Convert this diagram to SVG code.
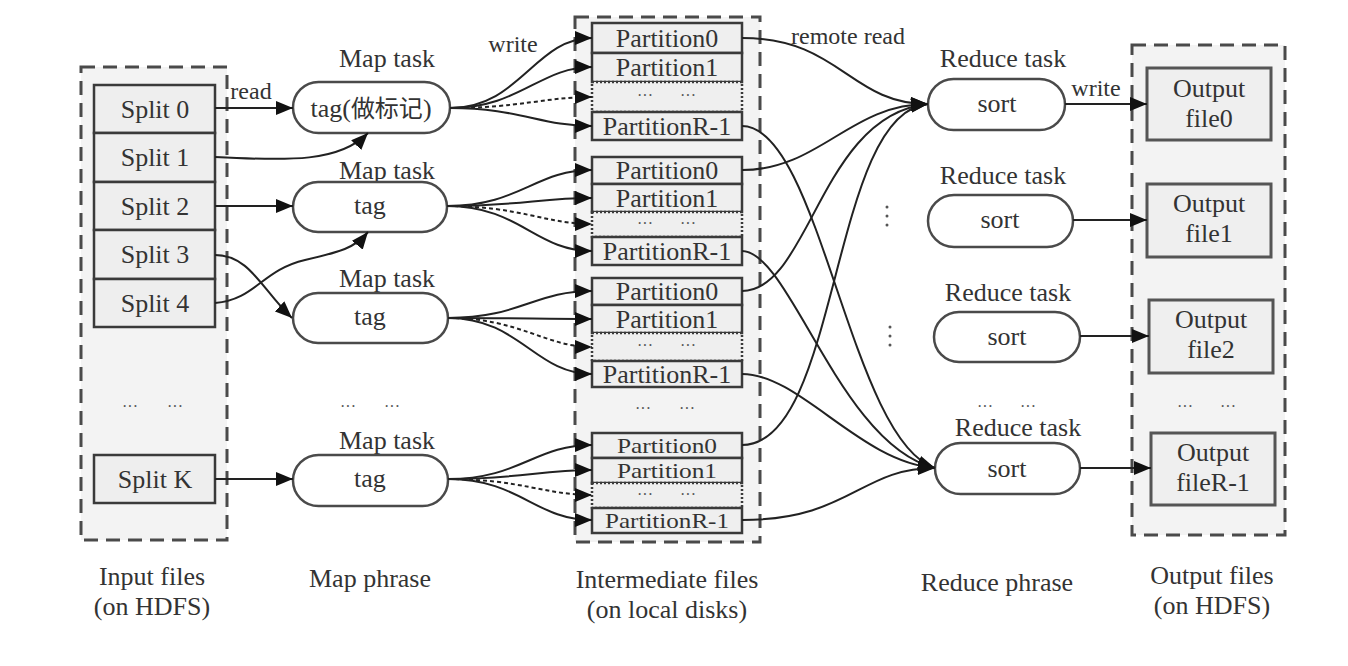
<svg xmlns="http://www.w3.org/2000/svg" width="1348" height="666" viewBox="0 0 1348 666">
<style>
text{font-family:"Liberation Serif","Times New Roman",serif;font-size:26px;fill:#333;text-anchor:middle}
.cont{fill:#f3f3f3;stroke:#4a4a4a;stroke-width:3;stroke-dasharray:14 8}
.box{fill:#eeeeee;stroke:#3a3a3a;stroke-width:2.5}
.pbox{fill:#efefef;stroke:#3a3a3a;stroke-width:2.5}
.dbox{fill:#efefef;stroke:#3a3a3a;stroke-width:2.5;stroke-dasharray:2 2}
.task{fill:#fff;stroke:#4a4a4a;stroke-width:2.5}
.obox{fill:#efefef;stroke:#555;stroke-width:3}
.c{fill:none;stroke:#222;stroke-width:2;marker-end:url(#arr)}
.cd{fill:none;stroke:#222;stroke-width:2;stroke-dasharray:4 3;marker-end:url(#arr)}
.dots{font-size:16px;fill:#555}
.lbl{font-size:24px}
.sm{font-size:22px}
</style>
<defs>
<marker id="arr" markerWidth="17" markerHeight="14" refX="17" refY="7" orient="auto" markerUnits="userSpaceOnUse">
<path d="M0,0 L17,7 L0,14 z" fill="#111"/>
</marker>
</defs>

<!-- containers -->
<g id="input-files">
<rect class="cont" x="81" y="67" width="146" height="473"/>
</g>
<g id="intermediate-files">
<rect class="cont" x="575" y="17" width="185" height="525"/>
</g>
<g id="output-files">
<rect class="cont" x="1132" y="45" width="153" height="490"/>
</g>

<!-- splits -->
<g id="split0"><rect class="box" x="94" y="85" width="121" height="48"/><text x="155" y="118">Split 0</text></g>
<g id="split1"><rect class="box" x="94" y="133" width="121" height="49"/><text x="155" y="166">Split 1</text></g>
<g id="split2"><rect class="box" x="94" y="182" width="121" height="48"/><text x="155" y="215">Split 2</text></g>
<g id="split3"><rect class="box" x="94" y="230" width="121" height="49"/><text x="155" y="263">Split 3</text></g>
<g id="split4"><rect class="box" x="94" y="279" width="121" height="48"/><text x="155" y="312">Split 4</text></g>
<g id="input-dots"><text class="dots" x="130" y="412">···</text><text class="dots" x="175" y="412">···</text></g>
<g id="splitK"><rect class="box" x="94" y="455" width="121" height="48"/><text x="155" y="488">Split K</text></g>

<!-- map tasks -->
<g id="map1"><text x="387" y="67">Map task</text><rect class="task" x="293" y="82" width="157" height="51" rx="25.5"/><text x="371" y="117">tag(<tspan font-family="'Noto Sans CJK SC',sans-serif" font-size="24">做标记</tspan>)</text></g>
<g id="map2"><text x="387" y="179">Map task</text><rect class="task" x="293" y="182" width="154" height="50" rx="25"/><text x="370" y="214">tag</text></g>
<g id="map3"><text x="387" y="287">Map task</text><rect class="task" x="293" y="293" width="155" height="50" rx="25"/><text x="370" y="325">tag</text></g>
<g id="map-dots"><text class="dots" x="348" y="412">···</text><text class="dots" x="392" y="412">···</text></g>
<g id="map4"><text x="387" y="449">Map task</text><rect class="task" x="293" y="455" width="155" height="51" rx="25.5"/><text x="370" y="487">tag</text></g>

<!-- partitions -->
<g id="part-g1">
<rect class="pbox" x="592" y="23" width="150" height="30"/><text x="667" y="47">Partition0</text>
<rect class="pbox" x="592" y="53" width="150" height="29"/><text x="667" y="76">Partition1</text>
<rect class="dbox" x="592" y="82" width="150" height="30"/><text class="dots" x="645" y="101">···</text><text class="dots" x="688" y="101">···</text>
<rect class="pbox" x="592" y="112" width="150" height="28"/><text x="667" y="135">PartitionR-1</text>
</g>
<g id="part-g2">
<rect class="pbox" x="592" y="157" width="150" height="27"/><text x="667" y="179">Partition0</text>
<rect class="pbox" x="592" y="184" width="150" height="28"/><text x="667" y="207">Partition1</text>
<rect class="dbox" x="592" y="212" width="150" height="25"/><text class="dots" x="645" y="229">···</text><text class="dots" x="688" y="229">···</text>
<rect class="pbox" x="592" y="237" width="150" height="28"/><text x="667" y="260">PartitionR-1</text>
</g>
<g id="part-g3">
<rect class="pbox" x="592" y="278" width="150" height="27"/><text x="667" y="300">Partition0</text>
<rect class="pbox" x="592" y="305" width="150" height="28"/><text x="667" y="328">Partition1</text>
<rect class="dbox" x="592" y="333" width="150" height="28"/><text class="dots" x="645" y="351">···</text><text class="dots" x="688" y="351">···</text>
<rect class="pbox" x="592" y="361" width="150" height="26"/><text x="667" y="383">PartitionR-1</text>
</g>
<g id="part-dots"><text class="dots" x="643" y="414">···</text><text class="dots" x="687" y="414">···</text></g>
<g id="part-g4">
<rect class="pbox" x="592" y="433" width="150" height="25"/><text class="sm" x="667" y="453" textLength="100" lengthAdjust="spacingAndGlyphs">Partition0</text>
<rect class="pbox" x="592" y="458" width="150" height="25"/><text class="sm" x="667" y="478" textLength="100" lengthAdjust="spacingAndGlyphs">Partition1</text>
<rect class="dbox" x="592" y="483" width="150" height="25"/><text class="dots" x="645" y="500">···</text><text class="dots" x="688" y="500">···</text>
<rect class="pbox" x="592" y="508" width="150" height="25"/><text class="sm" x="667" y="528" textLength="124" lengthAdjust="spacingAndGlyphs">PartitionR-1</text>
</g>

<!-- reduce tasks -->
<g id="reduce1"><text x="1003" y="67">Reduce task</text><rect class="task" x="928" y="79" width="137" height="51" rx="25.5"/><text x="997" y="112">sort</text></g>
<g id="reduce2"><text x="1003" y="184">Reduce task</text><rect class="task" x="928" y="195" width="145" height="52" rx="26"/><text x="1000" y="228">sort</text></g>
<g id="reduce3"><text x="1008" y="301">Reduce task</text><rect class="task" x="934" y="312" width="146" height="50" rx="25"/><text x="1007" y="345">sort</text></g>
<g id="reduce-dots"><text class="dots" x="985" y="412">···</text><text class="dots" x="1028" y="412">···</text></g>
<g id="reduce4"><text x="1018" y="436">Reduce task</text><rect class="task" x="935" y="443" width="145" height="51" rx="25.5"/><text x="1007" y="477">sort</text></g>
<g id="vdots" fill="#555">
<circle cx="887" cy="207" r="1.5"/><circle cx="887" cy="216" r="1.5"/><circle cx="887" cy="225" r="1.5"/>
<circle cx="890" cy="327" r="1.5"/><circle cx="890" cy="336" r="1.5"/><circle cx="890" cy="345" r="1.5"/>
</g>

<!-- output files -->
<g id="out0"><rect class="obox" x="1147" y="68" width="124" height="72"/><text x="1209" y="97">Output</text><text x="1209" y="127">file0</text></g>
<g id="out1"><rect class="obox" x="1147" y="184" width="124" height="73"/><text x="1209" y="212">Output</text><text x="1209" y="242">file1</text></g>
<g id="out2"><rect class="obox" x="1149" y="300" width="124" height="73"/><text x="1211" y="328">Output</text><text x="1211" y="358">file2</text></g>
<g id="out-dots"><text class="dots" x="1185" y="412">···</text><text class="dots" x="1228" y="412">···</text></g>
<g id="outR"><rect class="obox" x="1151" y="433" width="124" height="72"/><text x="1213" y="461">Output</text><text x="1213" y="491">fileR-1</text></g>

<!-- connectors -->
<g id="connectors">
<path class="c" d="M215,108 L293,108"/>
<path class="c" d="M215,157 C290,161 340,162 368,133"/>
<path class="c" d="M215,206 L293,206"/>
<path class="c" d="M215,255 C250,255 262,290 292,318"/>
<path class="c" d="M215,303 C255,300 262,270 305,260 C340,252 355,248 368,232"/>
<path class="c" d="M215,479 L293,479"/>

<path class="c" d="M450,108 C520,108 535,38 592,38"/>
<path class="c" d="M450,108 C520,108 540,67 592,67"/>
<path class="cd" d="M450,108 C520,108 545,97 592,97"/>
<path class="c" d="M450,108 C520,108 540,126 592,126"/>

<path class="c" d="M447,206 C520,206 535,170 592,170"/>
<path class="c" d="M447,206 C520,206 540,198 592,198"/>
<path class="cd" d="M447,206 C520,206 545,224 592,224"/>
<path class="c" d="M447,206 C520,206 535,251 592,251"/>

<path class="c" d="M448,318 C520,318 535,291 592,291"/>
<path class="c" d="M448,318 C520,318 540,319 592,319"/>
<path class="cd" d="M448,318 C520,318 545,347 592,347"/>
<path class="c" d="M448,318 C520,318 535,374 592,374"/>

<path class="c" d="M448,479 C520,479 535,445 592,445"/>
<path class="c" d="M448,479 C520,479 540,470 592,470"/>
<path class="cd" d="M448,479 C520,479 545,495 592,495"/>
<path class="c" d="M448,479 C520,479 535,520 592,520"/>

<path class="c" d="M742,38 C840,38 850,104 928,104"/>
<path class="c" d="M742,170 C820,170 850,104 928,104"/>
<path class="c" d="M742,291 C810,291 820,115 928,104"/>
<path class="c" d="M742,445 C840,445 830,112 928,104"/>

<path class="c" d="M742,126 C820,126 850,440 935,468"/>
<path class="c" d="M742,251 C790,251 840,445 935,468"/>
<path class="c" d="M742,374 C800,374 860,462 935,468"/>
<path class="c" d="M742,520 C850,520 860,468 935,468"/>

<path class="c" d="M1065,104 L1147,104"/>
<path class="c" d="M1073,220 L1147,220"/>
<path class="c" d="M1080,336 L1149,336"/>
<path class="c" d="M1080,468 L1151,468"/>
</g>

<!-- edge labels -->
<g id="edge-labels">
<text class="lbl" x="251" y="99">read</text>
<text class="lbl" x="513" y="52">write</text>
<text class="lbl" x="848" y="44">remote read</text>
<text class="lbl" x="1096" y="96">write</text>
</g>

<!-- phase labels -->
<g id="phase-labels">
<text x="152" y="585">Input files</text><text x="152" y="615">(on HDFS)</text>
<text x="370" y="587">Map phrase</text>
<text x="667" y="588">Intermediate files</text><text x="667" y="618">(on local disks)</text>
<text x="997" y="591">Reduce phrase</text>
<text x="1212" y="584">Output files</text><text x="1212" y="614">(on HDFS)</text>
</g>
</svg>
